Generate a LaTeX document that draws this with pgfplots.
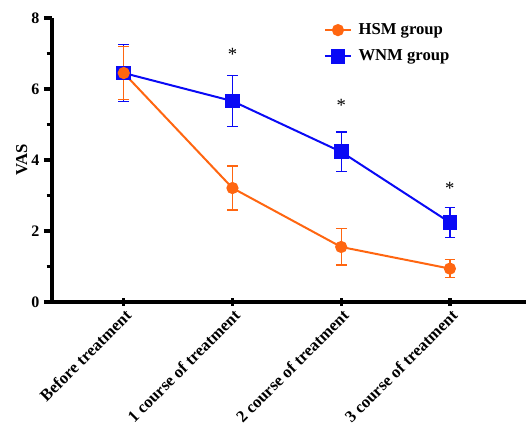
\documentclass[border=0pt]{standalone}
\usepackage{pgfplots}
\pgfplotsset{compat=1.18}
\usepackage{fontspec}
\setmainfont{Liberation Serif}
\definecolor{hsm}{RGB}{255,102,17}
\definecolor{wnm}{RGB}{10,10,245}
\begin{document}
\begin{tikzpicture}[x=1pt,y=1pt]
\begin{axis}[
  name=ax,
  scale only axis,
  width=355.5pt, height=213pt,
  xmin=-0.66, xmax=3.70,
  ymin=0, ymax=8,
  axis x line=bottom, axis y line=left,
  x axis line style={line width=3pt, -},
  y axis line style={line width=3pt, -},
  every outer x axis line/.append style={line width=3pt},
  every outer y axis line/.append style={line width=3pt},
  xtick={0,1,2,3},
  xticklabels={Before treatment,1 course of treatment,2 course of treatment,3 course of treatment},
  every x tick label/.append style={rotate=45, anchor=east, font=\fontsize{12.5}{14}\selectfont\bfseries, inner sep=1pt, yshift=-6pt},
  ytick={0,2,4,6,8},
  minor ytick={1,3,5,7},
  y tick label style={font=\fontsize{12}{14}\selectfont\bfseries},
  /pgf/number format/assume math mode=true,
  every tick/.style={line width=2.4pt, black},
  major tick style={line width=2.4pt, black},
  minor tick style={line width=2.4pt, black},
  major tick length=6pt,
  minor tick length=4pt,
  xtick align=center,
  ytick align=outside,
  ylabel={\bfseries VAS},
  ylabel style={font=\fontsize{12.5}{14}\selectfont, yshift=-4pt},
  legend style={draw=none, fill=none, at={(0.565,1.0)}, anchor=north west, font=\fontsize{12.5}{14}\selectfont\bfseries, row sep=6pt, nodes={inner xsep=5pt}},
  legend image code/.code={\draw[mark repeat=2,mark phase=2] plot coordinates {(0cm,0cm) (0.34cm,0cm) (0.68cm,0cm)};},
  legend cell align=left,
  reverse legend,
  clip=false,
]
\addplot[color=wnm, line width=1.5pt, mark=square*, mark size=4.8pt,
  error bars/.cd, y dir=both, y explicit,
  error bar style={line width=0.9pt, color=wnm},
  error mark options={rotate=90, mark size=4pt, line width=0.9pt, color=wnm}]
  coordinates {
  (0,6.45) +- (0,0.81)
  (1,5.66) +- (0,0.71)
  (2,4.23) +- (0,0.56)
  (3,2.24) +- (0,0.43)
  };
\addlegendentry{WNM group}
\addplot[color=hsm, line width=1.5pt, mark=*, mark size=3.8pt,
  error bars/.cd, y dir=both, y explicit,
  error bar style={line width=0.9pt, color=hsm},
  error mark options={rotate=90, mark size=4pt, line width=0.9pt, color=hsm}]
  coordinates {
  (0,6.45) +- (0,0.75)
  (1,3.21) +- (0,0.62)
  (2,1.55) +- (0,0.51)
  (3,0.94) +- (0,0.26)
  };
\addlegendentry{HSM group}
\node[font=\fontsize{14}{16}\selectfont] at (axis cs:1,6.98) {*};
\node[font=\fontsize{14}{16}\selectfont] at (axis cs:2,5.53) {*};
\node[font=\fontsize{14}{16}\selectfont] at (axis cs:3,3.21) {*};
\end{axis}
\pgfresetboundingbox
\path[use as bounding box] ([shift={(-39pt,-95.25pt)}]ax.south west) rectangle ([shift={(0pt,13.5pt)}]ax.north east);
\end{tikzpicture}
\end{document}
